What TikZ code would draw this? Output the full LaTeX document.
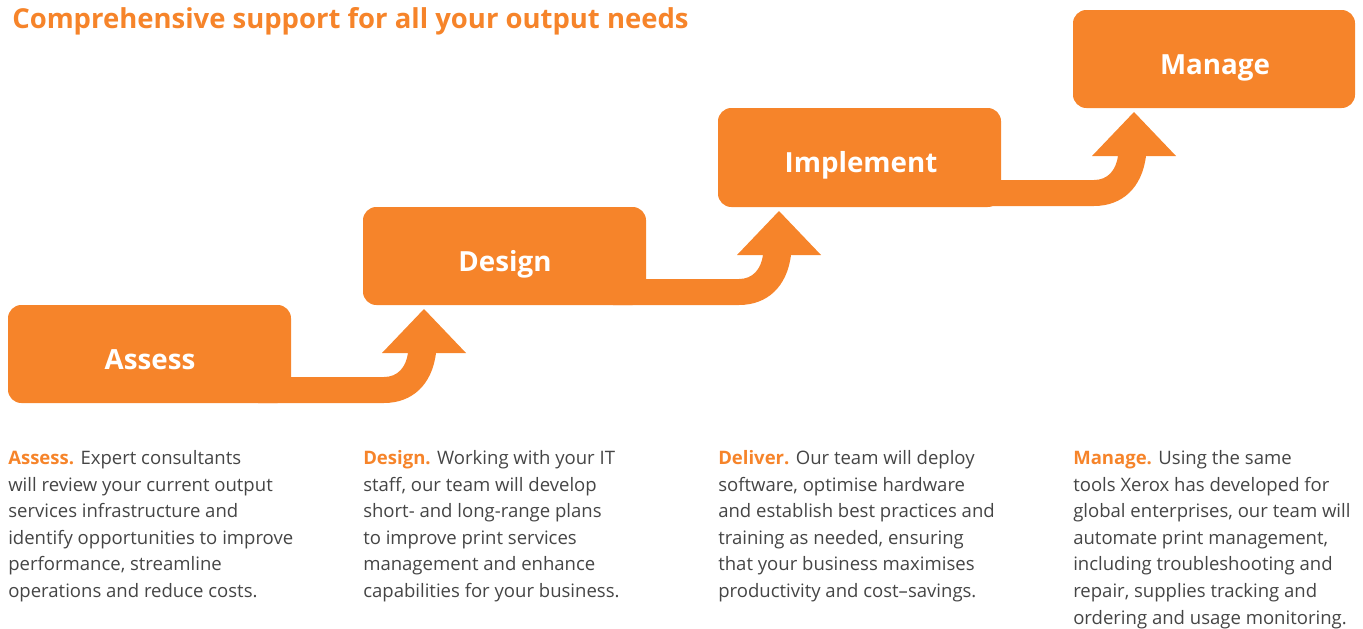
\documentclass[tikz,border=0pt]{standalone}
\usepackage{fontspec}
\setmainfont{Open Sans}
\definecolor{xorange}{HTML}{F6842A}
\definecolor{xgray}{HTML}{454545}
\newcommand{\leadin}[1]{{\bfseries\color{xorange}#1}}
\begin{document}
\begin{tikzpicture}[x=0.75pt,y=-0.75pt,
  stepbox/.style={fill=xorange,rounded corners=10pt},
  steplabel/.style={anchor=base,inner sep=0pt,text=white,font=\fontsize{20.8pt}{26pt}\selectfont\bfseries},
  body/.style={anchor=base west,inner sep=0pt,align=left,text=xgray,font=\fontsize{13.9pt}{19.9pt}\selectfont},
  title/.style={anchor=base west,inner sep=0pt,text=xorange,font=\fontsize{20.6pt}{23pt}\selectfont\bfseries}]
\useasboundingbox (0,0) rectangle (1363,628);
\node[title] (title) at (12,28) {Comprehensive support for all your output needs};
% arrows (first three steps)
\foreach \x/\y in {8/305,363/207,718/108}{
  \begin{scope}[shift={(\x,\y)}]
    \fill[xorange] (250,72) -- (376,72) .. controls (390,72) and (398,62) .. (400,48)
      -- (374,48) -- (416,4) -- (458,48) -- (428,48)
      .. controls (424,80) and (404,98) .. (376,98) -- (250,98) -- cycle;
  \end{scope}
}
% boxes
\fill[stepbox] (8,305) rectangle (291,403);
\fill[stepbox] (363,207) rectangle (646,305);
\fill[stepbox] (718,108) rectangle (1001,207);
\fill[stepbox] (1073,10) rectangle (1355,108);
\node[steplabel] (assess) at (150,369) {Assess};
\node[steplabel] (design) at (505,271) {Design};
\node[steplabel] (implement) at (861,172) {Implement};
\node[steplabel] (manage) at (1215,74) {Manage};
% descriptions (anchor at baseline of last line)
\node[body] (tassess) at (8,597.5) {\leadin{Assess.} Expert consultants\\will review your current output\\services infrastructure and\\identify opportunities to improve\\performance, streamline\\operations and reduce costs.};
\node[body] (tdesign) at (363,597.5) {\leadin{Design.} Working with your IT\\staff, our team will develop\\short- and long-range plans\\to improve print services\\management and enhance\\capabilities for your business.};
\node[body] (tdeliver) at (718,597.5) {\leadin{Deliver.} Our team will deploy\\software, optimise hardware\\and establish best practices and\\training as needed, ensuring\\that your business maximises\\productivity and cost--savings.};
\node[body] (tmanage) at (1073,624) {\leadin{Manage.} Using the same\\tools Xerox has developed for\\global enterprises, our team will\\automate print management,\\including troubleshooting and\\repair, supplies tracking and\\ordering and usage monitoring.};
\end{tikzpicture}
\end{document}
